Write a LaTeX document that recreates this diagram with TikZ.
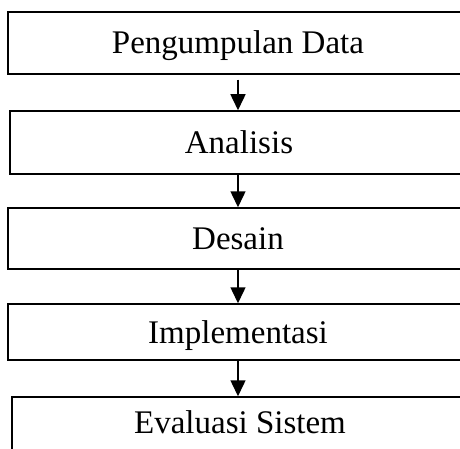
\documentclass[tikz,border=0pt]{standalone}
\usepackage{fontspec}
\setmainfont{Liberation Serif}
\usetikzlibrary{arrows.meta}

\begin{document}
\begin{tikzpicture}[x=1pt, y=-1pt,
  stage/.style={draw=black, line width=1.5pt, rectangle, inner sep=0pt,
    font=\fontsize{33}{39}\selectfont, text height=22pt, text depth=0pt},
  flow/.style={draw=black, line width=1.5pt,
    -{Triangle[length=16pt, width=15pt]}}]
  \useasboundingbox (0,0) rectangle (460,449);
  \clip (0,0) rectangle (460,449);

  % process stages, top to bottom (right edges run past the page)
  \node[stage, minimum width=460pt, minimum height=62pt] (b1) at (238,43) {Pengumpulan Data};
  \node[stage, minimum width=458pt, minimum height=63pt] (b2) at (239,142.5) {Analisis};
  \node[stage, minimum width=460pt, minimum height=61pt] (b3) at (238,238.5) {Desain};
  \node[stage, minimum width=460pt, minimum height=56pt] (b4) at (238,332) {Implementasi};
  \node[stage, minimum width=456pt, minimum height=80pt, text depth=30pt] (b5) at (240,437) {Evaluasi Sistem};

  % connectors between consecutive stages
  \draw[flow] ([yshift=-5pt]b1.south) -- (b1.south |- b2.north);
  \draw[flow] (b1.south |- b2.south) -- (b1.south |- b3.north);
  \draw[flow] (b3.south) -- (b3.south |- b4.north);
  \draw[flow] (b4.south) -- (b4.south |- b5.north);
\end{tikzpicture}
\end{document}
